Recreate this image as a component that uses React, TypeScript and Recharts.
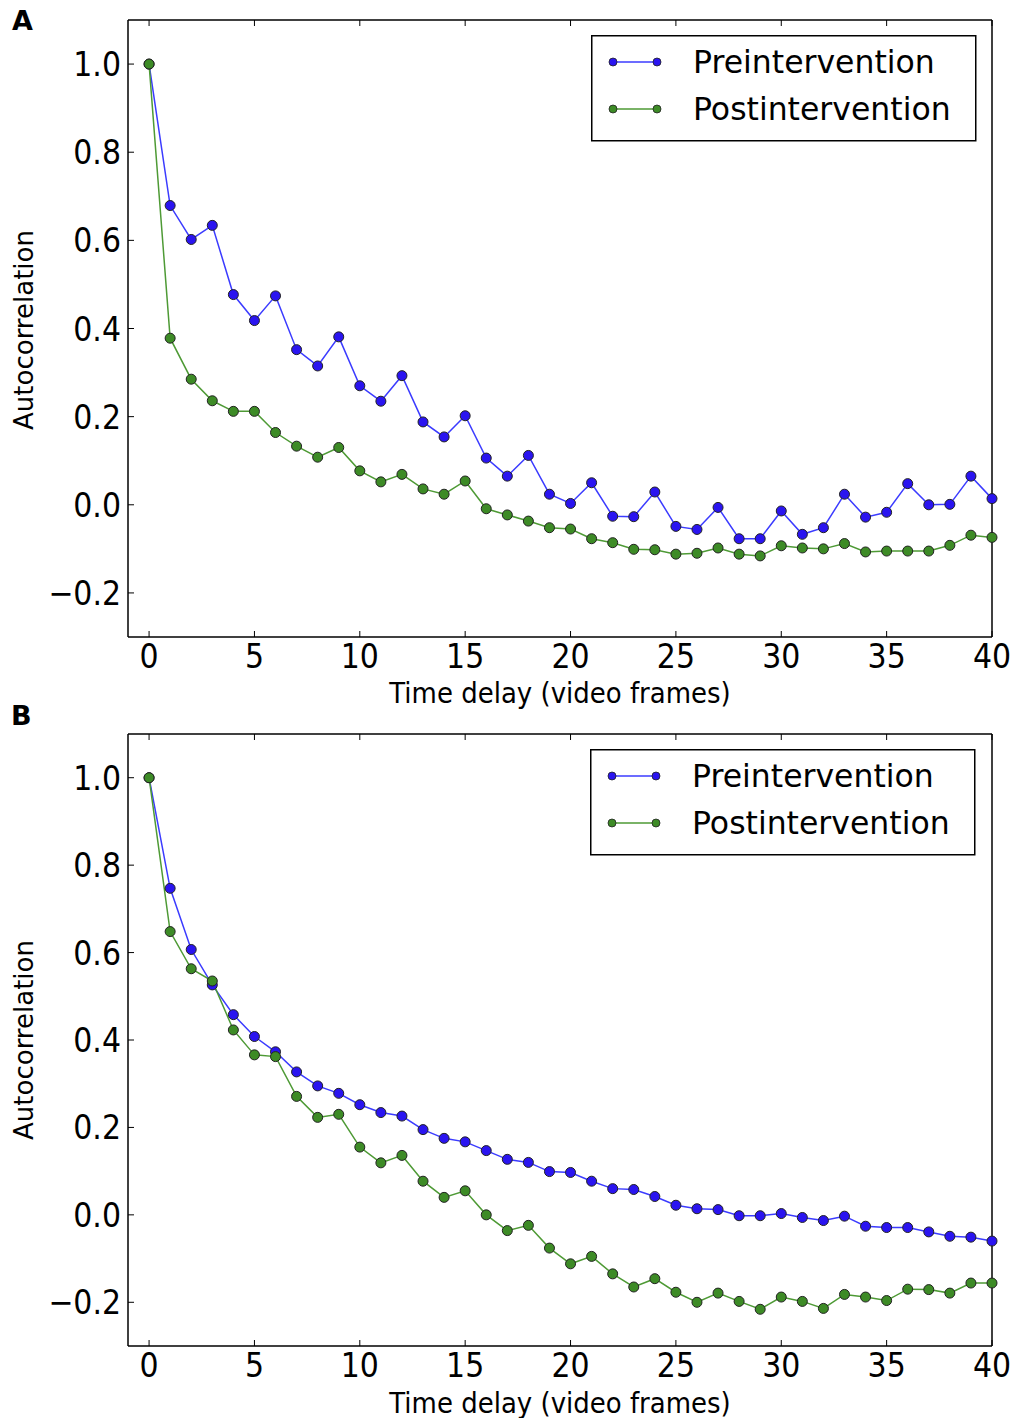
import { LineChart, Line, XAxis, YAxis, Legend } from "recharts"

const lags = [0, 1, 2, 3, 4, 5, 6, 7, 8, 9, 10, 11, 12, 13, 14, 15, 16, 17, 18, 19, 20, 21, 22, 23, 24, 25, 26, 27, 28, 29, 30, 31, 32, 33, 34, 35, 36, 37, 38, 39, 40]

const preA = [1.0, 0.679, 0.602, 0.634, 0.477, 0.418, 0.474, 0.352, 0.315, 0.381, 0.27, 0.235, 0.293, 0.188, 0.154, 0.202, 0.106, 0.065, 0.112, 0.024, 0.003, 0.05, -0.026, -0.027, 0.029, -0.049, -0.056, -0.006, -0.077, -0.077, -0.014, -0.067, -0.052, 0.024, -0.028, -0.017, 0.048, 0.0, 0.001, 0.065, 0.014]
const postA = [1.0, 0.378, 0.285, 0.236, 0.212, 0.212, 0.164, 0.133, 0.108, 0.13, 0.077, 0.052, 0.069, 0.036, 0.024, 0.054, -0.009, -0.023, -0.037, -0.052, -0.055, -0.077, -0.086, -0.101, -0.102, -0.112, -0.11, -0.098, -0.112, -0.116, -0.093, -0.098, -0.1, -0.088, -0.107, -0.105, -0.105, -0.105, -0.092, -0.069, -0.074]

const preB = [1.0, 0.747, 0.607, 0.526, 0.458, 0.408, 0.373, 0.327, 0.295, 0.278, 0.252, 0.234, 0.226, 0.195, 0.175, 0.167, 0.147, 0.127, 0.12, 0.099, 0.097, 0.077, 0.06, 0.058, 0.042, 0.022, 0.014, 0.012, -0.002, -0.002, 0.003, -0.006, -0.013, -0.003, -0.026, -0.029, -0.029, -0.039, -0.049, -0.051, -0.06]
const postB = [1.0, 0.648, 0.563, 0.535, 0.423, 0.366, 0.362, 0.271, 0.223, 0.23, 0.155, 0.119, 0.136, 0.077, 0.04, 0.055, 0.0, -0.036, -0.024, -0.076, -0.112, -0.095, -0.135, -0.165, -0.146, -0.177, -0.2, -0.179, -0.198, -0.216, -0.188, -0.198, -0.214, -0.182, -0.188, -0.196, -0.17, -0.171, -0.179, -0.156, -0.156]

const xTicks = [0, 5, 10, 15, 20, 25, 30, 35, 40]
const yTicks = [-0.2, 0.0, 0.2, 0.4, 0.6, 0.8, 1.0]
const seriesNames = ["Preintervention", "Postintervention"]

const FONT = '"DejaVu Sans", sans-serif'
const SY = 1.12 // labels in the source look a bit taller than wide
const BLUE = "#3b3bff"
const BLUE_DOT = "#2a14f0"
const GREEN = "#4e9a35"
const GREEN_DOT = "#3d8b26"

const fmtY = (v: number) => v.toFixed(1).replace("-", "\u2212")

function XTick({ x, y, payload }: any) {
  return (
    <g transform={`translate(${x},${y + 37}) scale(1,${SY})`}>
      <text x={0} y={0} textAnchor="middle" fontSize={30} fontFamily={FONT} fill="#000">
        {payload.value}
      </text>
    </g>
  )
}

function YTick({ x, y, payload }: any) {
  return (
    <g transform={`translate(${x - 13},${y + 12}) scale(1,${SY})`}>
      <text x={0} y={0} textAnchor="end" fontSize={30} fontFamily={FONT} fill="#000">
        {fmtY(payload.value)}
      </text>
    </g>
  )
}

const NoTick = () => <g />

function LegendBox() {
  return (
    <svg width={386} height={107} style={{ display: "block" }}>
      <rect x={0.75} y={0.75} width={384} height={105} fill="#fff" stroke="#000" strokeWidth={1.5} />
      {[
        { name: seriesNames[0], c: BLUE, d: BLUE_DOT, y: 27 },
        { name: seriesNames[1], c: GREEN, d: GREEN_DOT, y: 74 },
      ].map((it) => (
        <g key={it.name}>
          <line x1={22} x2={66} y1={it.y} y2={it.y} stroke={it.c} strokeWidth={1.5} />
          <circle cx={22} cy={it.y} r={4} fill={it.d} stroke="#222" strokeWidth={0.8} />
          <circle cx={66} cy={it.y} r={4} fill={it.d} stroke="#222" strokeWidth={0.8} />
          <text x={102} y={it.y + 11} fontSize={31.5} fontFamily={FONT} fill="#000">
            {it.name}
          </text>
        </g>
      ))}
    </svg>
  )
}

function Panel({ pre, post, height, top, bottomH, legendTop, legendLeft }: any) {
  const data = lags.map((lag, i) => ({ lag, pre: pre[i], post: post[i] }))
  return (
    <LineChart width={1014} height={height} data={data} margin={{ top: top - 1, right: 21, left: 0, bottom: 0 }}>
      <XAxis
        xAxisId="b"
        dataKey="lag"
        type="number"
        domain={[-1, 40]}
        ticks={xTicks}
        height={bottomH}
        tickSize={-6}
        tickMargin={0}
        tick={XTick}
        axisLine={{ stroke: "#000", strokeWidth: 1.5 }}
        tickLine={{ stroke: "#000" }}
        interval={0}
      />
      <XAxis
        xAxisId="t"
        orientation="top"
        dataKey="lag"
        type="number"
        domain={[-1, 40]}
        ticks={xTicks}
        height={1}
        tickSize={-6}
        tickMargin={0}
        tick={NoTick}
        axisLine={{ stroke: "#000", strokeWidth: 1.5 }}
        tickLine={{ stroke: "#000" }}
        interval={0}
      />
      <YAxis
        yAxisId="l"
        type="number"
        domain={[-0.3, 1.1]}
        ticks={yTicks}
        width={128}
        tickSize={-6}
        tickMargin={0}
        tick={YTick}
        axisLine={{ stroke: "#000", strokeWidth: 1.5 }}
        tickLine={{ stroke: "#000" }}
        interval={0}
      />
      <YAxis
        yAxisId="r"
        orientation="right"
        type="number"
        domain={[-0.3, 1.1]}
        ticks={yTicks}
        width={1}
        tickSize={-6}
        tick={NoTick}
        axisLine={{ stroke: "#000", strokeWidth: 1.5 }}
        tickLine={{ stroke: "#000" }}
        interval={0}
      />
      <Line
        xAxisId="b"
        yAxisId="l"
        dataKey="pre"
        name={seriesNames[0]}
        stroke={BLUE}
        strokeWidth={1.5}
        dot={{ r: 5, fill: BLUE_DOT, stroke: "#222", strokeWidth: 1 }}
        isAnimationActive={false}
      />
      <Line
        xAxisId="b"
        yAxisId="l"
        dataKey="post"
        name={seriesNames[1]}
        stroke={GREEN}
        strokeWidth={1.5}
        dot={{ r: 5, fill: GREEN_DOT, stroke: "#222", strokeWidth: 1 }}
        isAnimationActive={false}
      />
      <Legend
        layout="horizontal"
        verticalAlign="middle"
        content={() => <LegendBox />}
        wrapperStyle={{ left: legendLeft, top: legendTop, width: 386, height: 107 }}
      />
    </LineChart>
  )
}

const titleStyle: any = {
  position: "absolute",
  fontFamily: FONT,
  fontSize: 26,
  color: "#000",
  whiteSpace: "nowrap",
  lineHeight: 1,
}

export default function App() {
  return (
    <div style={{ position: "absolute", left: 0, top: 0, width: 1014, height: 1418, background: "#fff" }}>
      <div style={{ position: "absolute", left: 0, top: 0 }}>
        <Panel pre={preA} post={postA} height={700} top={20} bottomH={63} legendTop={35} legendLeft={591} />
      </div>
      <div style={{ position: "absolute", left: 0, top: 700 }}>
        <Panel pre={preB} post={postB} height={718} top={34} bottomH={72} legendTop={49} legendLeft={590} />
      </div>

      <div style={{ ...titleStyle, fontWeight: "bold", fontSize: 27, left: 12, top: 7 }}>A</div>
      <div style={{ ...titleStyle, fontWeight: "bold", fontSize: 27, left: 11, top: 702 }}>B</div>

      <div style={{ ...titleStyle, left: 560, top: 693, transform: `translate(-50%,-50%) scaleY(${SY})` }}>
        Time delay (video frames)
      </div>
      <div style={{ ...titleStyle, left: 560, top: 1403, transform: `translate(-50%,-50%) scaleY(${SY})` }}>
        Time delay (video frames)
      </div>

      <div style={{ ...titleStyle, left: 24, top: 330, transform: "translate(-50%,-50%) rotate(-90deg)" }}>
        Autocorrelation
      </div>
      <div style={{ ...titleStyle, left: 24, top: 1040, transform: "translate(-50%,-50%) rotate(-90deg)" }}>
        Autocorrelation
      </div>
    </div>
  )
}
